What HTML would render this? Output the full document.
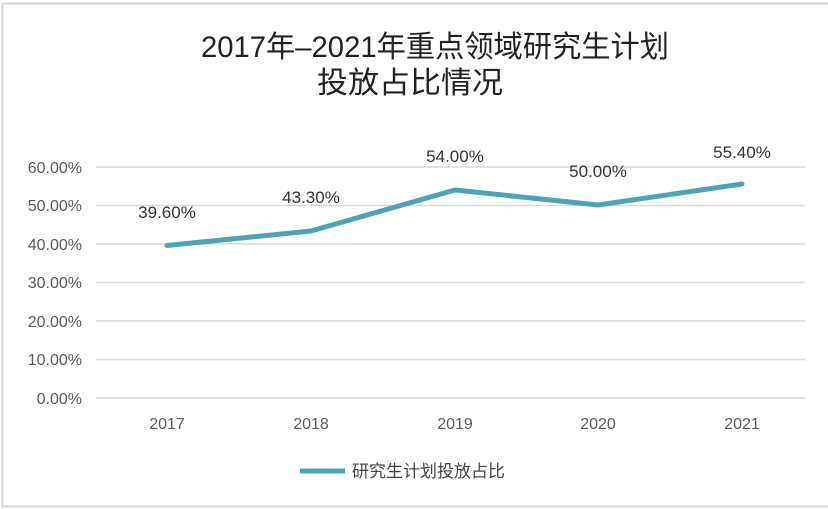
<!DOCTYPE html>
<html><head><meta charset="utf-8"><style>
body{margin:0;background:#fff;}
svg{display:block;}
text{font-family:"Liberation Sans","Noto Sans CJK SC",sans-serif;}
</style></head><body>
<svg width="828" height="509" viewBox="0 0 828 509">
<rect x="0" y="0" width="828" height="509" fill="#fff"/>
<rect x="2.5" y="3.5" width="830" height="503" fill="none" stroke="#d4d4d4" stroke-width="2"/>
<text x="435" y="57" text-anchor="middle" font-size="30" fill="#222" textLength="468" lengthAdjust="spacingAndGlyphs">2017年–2021年重点领域研究生计划</text>
<text x="410" y="93" text-anchor="middle" font-size="30" fill="#222" textLength="186" lengthAdjust="spacingAndGlyphs">投放占比情况</text>
<g stroke="#d9d9d9" stroke-width="1.5">
<line x1="96" x2="805" y1="167" y2="167"/>
<line x1="96" x2="805" y1="205.5" y2="205.5"/>
<line x1="96" x2="805" y1="244" y2="244"/>
<line x1="96" x2="805" y1="282.5" y2="282.5"/>
<line x1="96" x2="805" y1="321" y2="321"/>
<line x1="96" x2="805" y1="359.5" y2="359.5"/>
<line x1="96" x2="805" y1="398" y2="398"/>
</g>
<g font-size="16" fill="#595959" text-anchor="end">
<text x="82" y="173">60.00%</text>
<text x="82" y="211">50.00%</text>
<text x="82" y="250">40.00%</text>
<text x="82" y="288">30.00%</text>
<text x="82" y="327">20.00%</text>
<text x="82" y="365">10.00%</text>
<text x="82" y="404">0.00%</text>
</g>
<g font-size="16" fill="#595959" text-anchor="middle">
<text x="167" y="429">2017</text>
<text x="311" y="429">2018</text>
<text x="455" y="429">2019</text>
<text x="598" y="429">2020</text>
<text x="742" y="429">2021</text>
</g>
<polyline points="167,245.5 311,231 455,190 598,205 742,184" fill="none" stroke="#4fa3b6" stroke-width="5" stroke-linejoin="round" stroke-linecap="round"/>
<g font-size="17" fill="#333" text-anchor="middle">
<text x="167" y="218">39.60%</text>
<text x="311" y="203">43.30%</text>
<text x="455" y="162">54.00%</text>
<text x="598" y="177">50.00%</text>
<text x="742" y="158">55.40%</text>
</g>
<line x1="300" x2="345" y1="471" y2="471" stroke="#4fa3b6" stroke-width="5"/>
<text x="352" y="477" font-size="17" fill="#444">研究生计划投放占比</text>
</svg>
</body></html>
